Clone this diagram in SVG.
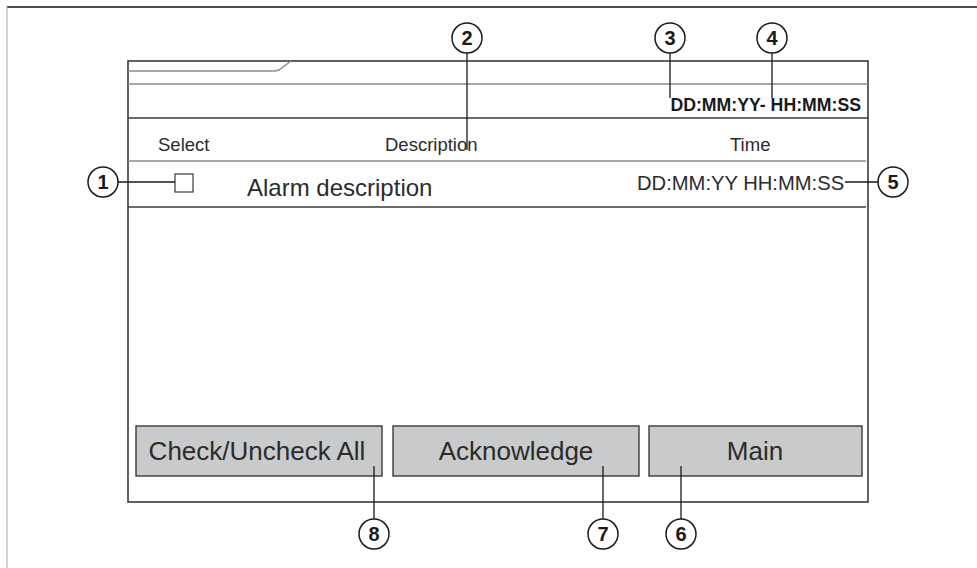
<svg xmlns="http://www.w3.org/2000/svg" width="977" height="568" viewBox="0 0 977 568">
<style>
.bg{fill:#ffffff}
.frame{fill:none;stroke:#3a3a3a;stroke-width:1.6}
.rule{stroke:#3a3a3a;stroke-width:1.4;fill:none}
.lite{stroke:#8a8a8a;stroke-width:1.4;fill:none}
.btn{fill:#c9cacc;stroke:#3a3a3a;stroke-width:1.4}
.t{font-family:"Liberation Sans",Arial,sans-serif;fill:#2b2b2b}
.hdr{font-size:18.5px}
.big{font-size:24px}
.btxt{font-size:26px;text-anchor:middle}
.bold{font-weight:bold;fill:#1a1a1a}
.co{fill:#ffffff;stroke:#1a1a1a;stroke-width:1.5}
.num{font-family:"Liberation Sans",Arial,sans-serif;font-weight:bold;font-size:20px;fill:#1a1a1a;text-anchor:middle}
.lead{stroke:#1a1a1a;stroke-width:1.3;fill:none}
</style>
<rect class="bg" x="0" y="0" width="977" height="568"/>
<line x1="7" y1="7" x2="977" y2="7" stroke="#111" stroke-width="1.5"/>
<line x1="7" y1="7" x2="7" y2="568" stroke="#b5b5b5" stroke-width="1.2"/>

<g id="screen">
  <rect class="frame" x="128" y="61" width="740" height="441"/>
  <path class="lite" d="M128 71 H274 Q279 71 283 67 L291 61"/>
  <line class="lite" x1="128" y1="84" x2="868" y2="84"/>
  <line class="rule" x1="128" y1="118" x2="868" y2="118"/>
  <text class="t bold" x="861" y="111" font-size="17.7" text-anchor="end">DD:MM:YY- HH:MM:SS</text>
</g>

<g id="table-header">
  <text class="t hdr" x="158" y="151">Select</text>
  <text class="t hdr" x="385" y="151">Description</text>
  <text class="t hdr" x="730" y="151">Time</text>
  <line class="lite" x1="128" y1="161" x2="866" y2="161"/>
</g>

<g id="alarm-row">
  <rect x="175" y="174" width="18" height="18" fill="#fff" stroke="#3a3a3a" stroke-width="1.2"/>
  <text class="t big" x="247" y="196">Alarm description</text>
  <text class="t" x="637" y="190" font-size="20.2">DD:MM:YY HH:MM:SS</text>
  <line class="rule" x1="128" y1="207" x2="866" y2="207"/>
</g>

<g id="btn-check">
  <rect class="btn" x="136" y="426" width="246" height="50"/>
  <text class="t btxt" x="257" y="460">Check/Uncheck All</text>
</g>
<g id="btn-ack">
  <rect class="btn" x="393" y="426" width="246" height="50"/>
  <text class="t btxt" x="516" y="460">Acknowledge</text>
</g>
<g id="btn-main">
  <rect class="btn" x="649" y="426" width="213" height="50"/>
  <text class="t btxt" x="755" y="460">Main</text>
</g>

<g id="connectors">
  <line class="lead" x1="118" y1="182" x2="175" y2="182"/>
  <line class="lead" x1="467" y1="53" x2="467" y2="150"/>
  <line class="lead" x1="670" y1="53" x2="670" y2="98"/>
  <line class="lead" x1="772" y1="53" x2="772" y2="98"/>
  <line class="lead" x1="845" y1="182" x2="878" y2="182"/>
  <line class="lead" x1="681" y1="466" x2="681" y2="519"/>
  <line class="lead" x1="603" y1="466" x2="603" y2="519"/>
  <line class="lead" x1="374" y1="466" x2="374" y2="519"/>
</g>

<g id="callout-1"><circle class="co" cx="103" cy="182" r="15"/><text class="num" x="103" y="189">1</text></g>
<g id="callout-2"><circle class="co" cx="467" cy="38" r="15"/><text class="num" x="467" y="45">2</text></g>
<g id="callout-3"><circle class="co" cx="670" cy="38" r="15"/><text class="num" x="670" y="45">3</text></g>
<g id="callout-4"><circle class="co" cx="772" cy="38" r="15"/><text class="num" x="772" y="45">4</text></g>
<g id="callout-5"><circle class="co" cx="893" cy="182" r="15"/><text class="num" x="893" y="189">5</text></g>
<g id="callout-6"><circle class="co" cx="681" cy="534" r="15"/><text class="num" x="681" y="541">6</text></g>
<g id="callout-7"><circle class="co" cx="603" cy="534" r="15"/><text class="num" x="603" y="541">7</text></g>
<g id="callout-8"><circle class="co" cx="374" cy="534" r="15"/><text class="num" x="374" y="541">8</text></g>
</svg>
